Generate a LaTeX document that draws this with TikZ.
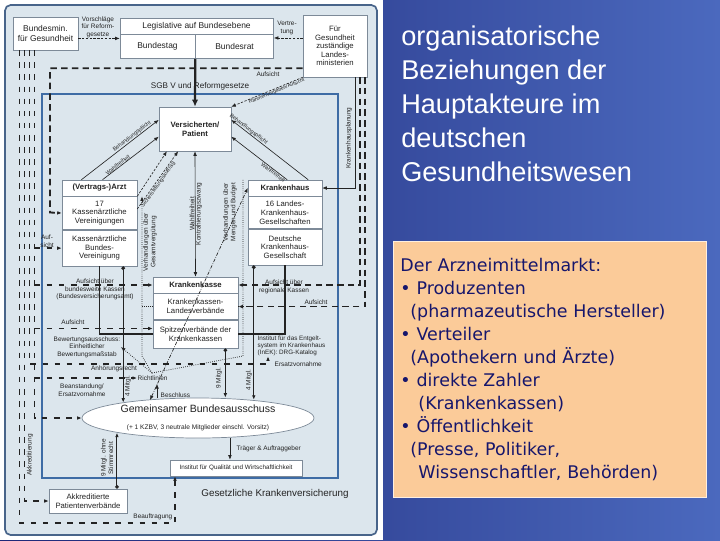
\documentclass[tikz,border=0pt]{standalone}
\usepackage{fontspec}
\setmainfont{Liberation Sans}
\newfontfamily\boxfont{DejaVu Sans}
\usetikzlibrary{
positioning,
shapes.geometric,
arrows.meta,
}
\newcommand{\unitpx}{0.025cm}
\definecolor{slidedark}{RGB}{30,40,120}
\definecolor{slidelight}{RGB}{75,105,190}
\definecolor{panelfill}{RGB}{220,230,237}
\definecolor{panelrim}{RGB}{72,100,138}
\definecolor{gkvblue}{RGB}{62,108,165}
\definecolor{boxgrey}{RGB}{125,138,152}
\definecolor{ink}{RGB}{35,35,35}
\definecolor{peach}{RGB}{251,203,153}
\definecolor{navytext}{RGB}{22,22,108}
\tikzset{
box/.style={draw=boxgrey, fill=white, line width=0.4pt, inner sep=0.5pt, align=center, text=ink, font=\fontsize{5.5}{6.2}\selectfont},
head/.style={box, font=\fontsize{5.5}{6.2}\selectfont\bfseries},
lbl/.style={inner sep=0.3pt, align=center, text=ink, font=\fontsize{4.6}{5.3}\selectfont},
slbl/.style={lbl, sloped, inner sep=0.2pt, font=\fontsize{3.9}{4.5}\selectfont},
rlbl/.style={lbl, rotate=90},
conn/.style={draw=ink, line width=0.45pt},
bar/.style={draw=ink, line width=1.1pt},
aufs/.style={draw=ink, line width=1.3pt, dash pattern=on 4.6pt off 3pt},
aufsbmg/.style={draw=ink, line width=1pt, dash pattern=on 4pt off 4.6pt},
dsh/.style={draw=ink, line width=0.45pt, dash pattern=on 1.6pt off 1.1pt},
dot/.style={draw=ink, line width=0.55pt, dash pattern=on 0.5pt off 1pt},
dashdot/.style={draw=ink, line width=0.45pt, dash pattern=on 2.5pt off 1pt on 0.5pt off 1pt},
>={Latex[length=3.2pt,width=2.6pt]},
}
\begin{document}
\begin{tikzpicture}[x=\unitpx, y=-\unitpx]
\useasboundingbox (0,0) rectangle (720,540);
% slide and panel
\fill[left color=slidedark, right color=slidelight] (0,0) rectangle (720,540);
\fill[white] (0,0) rectangle (383,540);
\node[draw=panelrim, line width=1.2pt, fill=panelfill, rounded corners=4pt,
  minimum width=372*\unitpx, minimum height=530*\unitpx] (panel) at (191,270) {};
\node[draw=gkvblue, line width=1.4pt, minimum width=296*\unitpx,
  minimum height=384*\unitpx] (gkv) at (190,286) {};
\node[text=ink, font=\fontsize{7}{8}\selectfont] (gkvlabel) at (275,494) {Gesetzliche Krankenversicherung};

% federal level
\node[box, font=\fontsize{6}{6.6}\selectfont, minimum width=65*\unitpx, minimum height=33*\unitpx] (bmg) at (45.5,33.5) {Bundesmin.\\für Gesundheit};
\node[box, font=\fontsize{6}{7}\selectfont, minimum width=153*\unitpx, minimum height=16*\unitpx] (leg) at (196.5,26) {Legislative auf Bundesebene};
\node[box, font=\fontsize{6}{7}\selectfont, anchor=north west, minimum width=75*\unitpx, minimum height=24*\unitpx] (bt) at (leg.south west) {Bundestag};
\node[box, font=\fontsize{6}{7}\selectfont, anchor=north west, minimum width=78*\unitpx, minimum height=24*\unitpx] (br) at (bt.north east) {Bundesrat};
\node[box, font=\fontsize{5.5}{6.1}\selectfont, minimum width=64*\unitpx, minimum height=62*\unitpx] (lm) at (335,46) {Für\\Gesundheit\\zuständige\\Landes-\\ministerien};
\node[lbl] (vorschl) at (98,27) {Vorschläge\\für Reform-\\gesetze};
\node[lbl] (vertr) at (287,28) {Vertre-\\tung};
\node[lbl, font=\fontsize{5.8}{7}\selectfont] (sgb) at (200,86) {SGB V und Reformgesetze};
\node[lbl] (aufslm) at (268,74.5) {Aufsicht};

% actors
\node[head, minimum width=72*\unitpx, minimum height=44*\unitpx] (vers) at (195,129) {Versicherten/\\Patient};
\node[head, minimum width=75*\unitpx, minimum height=16*\unitpx] (arzt) at (99.5,188) {(Vertrags-)Arzt};
\node[box, minimum width=75*\unitpx, minimum height=33*\unitpx, below=0pt of arzt] (kv) {17\\Kassenärztliche\\Vereinigungen};
\node[box, minimum width=75*\unitpx, minimum height=36*\unitpx, below=0pt of kv] (kbv) {Kassenärztliche\\Bundes-\\Vereinigung};
\node[head, minimum width=74*\unitpx, minimum height=16*\unitpx] (kh) at (285,188) {Krankenhaus};
\node[box, minimum width=74*\unitpx, minimum height=32*\unitpx, below=0pt of kh] (lkg) {16 Landes-\\Krankenhaus-\\Gesellschaften};
\node[box, minimum width=74*\unitpx, minimum height=36*\unitpx, below=0pt of lkg] (dkg) {Deutsche\\Krankenhaus-\\Gesellschaft};
\node[head, minimum width=85*\unitpx, minimum height=16*\unitpx] (kk) at (195.5,285) {Krankenkasse};
\node[box, minimum width=85*\unitpx, minimum height=26*\unitpx, below=0pt of kk] (lv) {Krankenkassen-\\Landesverbände};
\node[box, minimum width=85*\unitpx, minimum height=28*\unitpx, below=0pt of lv] (spv) {Spitzenverbände der\\Krankenkassen};
\node[ellipse, draw=boxgrey, fill=white, line width=0.5pt, inner sep=0pt, align=center, text=ink,
  minimum width=232*\unitpx, minimum height=40*\unitpx] (gba) at (198,418)
  {{\fontsize{7.5}{8}\selectfont Gemeinsamer Bundesausschuss}\\[0.5pt]
   {\fontsize{4.7}{5.5}\selectfont (+ 1 KZBV, 3 neutrale Mitglieder einschl. Vorsitz)}};
\node[box, font=\fontsize{4.5}{5}\selectfont, minimum width=132*\unitpx, minimum height=16*\unitpx] (iqwig) at (236,468) {Institut für Qualität und Wirtschaftlichkeit};
\node[box, font=\fontsize{5.5}{6.6}\selectfont, minimum width=78*\unitpx, minimum height=24*\unitpx] (akkr) at (88,501) {Akkreditierte\\Patientenverbände};

% labels
\node[lbl] (auflinks) at (47,241) {Auf-\\sicht};
\node[lbl, anchor=south] (bvaA) at (95,284.5) {Aufsicht über};
\node[lbl, anchor=north] (bvaB) at (95,286) {bundesweite Kassen\\(Bundesversicherungsamt)};
\node[lbl] (aufspv) at (73,322) {Aufsicht};
\node[lbl] (regkas) at (284,287) {Aufsicht über\\regionale Kassen};
\node[lbl] (aufslv) at (316,302) {Aufsicht};
\node[lbl, anchor=north west, align=left, font=\fontsize{4.5}{5}\selectfont] (inek) at (257,335) {Institut für das Entgelt-\\system im Krankenhaus\\(InEK): DRG-Katalog};
\node[lbl, anchor=west] (ersatzlbl) at (274,364) {Ersatzvornahme};
\node[lbl] (bewert) at (87,347) {Bewertungsausschuss:\\Einheitlicher\\Bewertungsmaßstab};
\node[lbl] (anhoer) at (114,369) {Anhörungsrecht};
\node[lbl, anchor=west] (richt) at (137,378) {Richtlinien};
\node[lbl] (beanst) at (82,390) {Beanstandung/\\Ersatzvornahme};
\node[lbl, anchor=west] (beschl) at (160,395) {Beschluss};
\node[lbl, anchor=west] (traeger) at (236,449) {Träger \& Auftraggeber};
\node[lbl, anchor=east] (beauftr) at (173,517) {Beauftragung};
\node[rlbl] (akkrlbl) at (30,455) {Akkreditierung};
\node[rlbl] (khplan) at (349,138) {Krankenhausplanung};
\node[rlbl] (gesverg) at (150,242) {Verhandlungen über\\Gesamtvergütung};
\node[rlbl] (mengen) at (230,212) {Verhandlungen über\\Mengen und Budget};
\node[rlbl] (mkbv) at (128,386) {4 Mitgl.};
\node[rlbl] (mspv) at (219,378) {9 Mitgl.};
\node[rlbl] (mdkg) at (249,380) {4 Mitgl.};
\node[rlbl] (mpat) at (107,458) {9 Mitgl. ohne\\Stimmrecht};

% free ends
\coordinate (b20) at ([xshift=5pt]bmg.south west);
\coordinate (b25) at ([xshift=8.5pt]bmg.south west);
\coordinate (b30) at ([xshift=12.1pt]bmg.south west);
\coordinate (b35) at ([xshift=15.6pt]bmg.south west);
\coordinate (beauf) at (175,523);
\coordinate (ersatz) at (268,364);
\coordinate (kvturn) at (50,212.5);
\coordinate (beschA) at (157,384);
\coordinate (rl) at (152,373);
\coordinate (dotA) at (142,356);
\coordinate (dotB) at (243,356);
\coordinate (ddlow) at (150,400);

% federal arrows
\draw[dsh,->] ([yshift=-3.5pt]bmg.east) -- ([yshift=-3.5pt]bmg.east -| bt.west);
\draw[dsh,->] ([yshift=5.7pt]lm.west) -- ([yshift=5.7pt]lm.west -| br.east);
\draw[bar, line width=1.6pt, -{Latex[length=5pt,width=4.5pt]}] (bt.south east) -- (vers.north);
\draw[dsh,->] (lm.south west) -- node[slbl, below, pos=0.38, font=\fontsize{3.6}{4}\selectfont] {Rahmenvorgaben/Aufsicht} (vers.north east);

% supervision (Land)
\draw[aufs,->] ([yshift=6.4pt]lm.south west) -| (kvturn) -- (kv.west);
\draw[aufs,->] ([xshift=-5pt]lm.south east) |- (kk.east);
\draw[aufs,->] ([xshift=-1.4pt]lm.south east) |- (lv.east);
\draw[conn,->] ([xshift=-8.5pt]lm.south east) |- (kh.east);

% supervision (Bund)
\draw[aufsbmg,->] (b20) |- (beauf) -- (beauf |- iqwig.south);
\draw[aufsbmg,->] (b25) |- (akkr.west);
\draw[aufsbmg,->] (b30) |- (ersatz) -- (ersatz |- inek.south);
\draw[aufsbmg,->] (b35) |- (gba.west);
\draw[aufsbmg,->] (b35 |- kbv.west) -- (kbv.west);
\draw[aufsbmg,->] (b35 |- kk.west) -- (kk.west);
\draw[aufsbmg,->] ([yshift=4pt]b35 |- spv.west) -- ([yshift=4pt]spv.west);
\draw[aufsbmg,->] (b35 |- richt.west) -- (richt.west);

% patient relations
\draw[conn,->] ([xshift=14pt]arzt.north west) -- node[slbl, above, pos=0.68] {Behandlungspflicht} ([yshift=6.5pt]vers.west);
\draw[conn,->] ([xshift=29pt]arzt.north west) -- node[slbl, above, pos=0.3] {Wahlfreiheit} ([yshift=-5.5pt]vers.west);
\draw[conn,->] ([xshift=-10pt]kh.north east) -- node[slbl, above, pos=0.8] {Behandlungspflicht} ([yshift=6.5pt]vers.east);
\draw[conn,->] ([xshift=-25pt]kh.north east) -- node[slbl, below, pos=0.22] {Wahlfreiheit} ([yshift=-5.5pt]vers.east);
\draw[dsh,->] (kv.north east) -- ([xshift=-20pt]vers.south);
\draw[dsh,->] ([yshift=-9pt]kv.north east) -- node[slbl, below, pos=0.45] {Sicherstellungsauftrag} ([xshift=-12pt]vers.south);
\draw[conn,<->] (vers.south) -- node[rlbl, anchor=south] {Wahlfreiheit} node[rlbl, anchor=north] {Kontrahierungszwang} (kk.north);

% negotiations
\draw[dot,->] (rl) -- (dotA) -- (dotA |- kv.north);
\draw[dot] (rl) -- (dotB) -- (dotB |- kh.north);
\draw[dot,->] (rl) -- (bewert.east);
\draw[dot] (lv.west) -- (lv.west -| dotA);
\draw[dot] (lv.east) -- (lv.east -| dotB);
\draw[dashdot,<->] (ddlow) -- (kh.west);

% self-government
\draw[bar] (kbv.south) |- (spv.west);
\draw[bar] (dkg.south) |- (spv.east);
\draw[conn, line width=0.7pt, {Circle[length=2.6pt]}->, shorten >=-3.5pt] ([xshift=-10pt]kbv.south east) -- ([xshift=-10pt]kbv.south east |- gba.north);
\draw[conn, line width=0.7pt, {Circle[length=2.6pt]}->] ([xshift=-9.2pt]spv.south east) -- ([xshift=-9.2pt]spv.south east |- gba.north);
\draw[conn, line width=0.7pt, {Circle[length=2.6pt]}->, shorten >=-1.5pt] ([xshift=4.3pt]dkg.south west) -- ([xshift=4.3pt]dkg.south west |- gba.north);
\draw[conn, line width=0.7pt, {Circle[length=2.6pt]}->, shorten >=-4pt] ([xshift=20.6pt]akkr.north) -- ([xshift=20.6pt]akkr.north |- gba.south);
\draw[conn,->] ([xshift=-4.3pt]iqwig.north |- gba.south) -- ([xshift=-4.3pt]iqwig.north);
\draw[conn,->] (gba.north -| beschA) -- (beschA);

% slide text
\node[anchor=north west, inner sep=0pt, align=left, text=white,
  font=\fontsize{19.3}{24.2}\selectfont] (titel) at (401,25.5)
  {organisatorische\\Beziehungen der\\Hauptakteure im\\deutschen\\Gesundheitswesen};
\node[anchor=north west, fill=peach, draw=white!70!peach, line width=0.6pt,
  inner xsep=5pt, text width=313*\unitpx-10pt, minimum height=256*\unitpx,
  align=left, text=navytext, font=\boxfont\fontsize{12.4}{16.4}\selectfont] (markt) at (393,241)
  {Der Arzneimittelmarkt:\\
   \textbullet\ Produzenten\\
   \hspace*{7.1pt}(pharmazeutische Hersteller)\\
   \textbullet\ Verteiler\\
   \hspace*{7.1pt}(Apothekern und Ärzte)\\
   \textbullet\ direkte Zahler\\
   \hspace*{12.8pt}(Krankenkassen)\\
   \textbullet\ Öffentlichkeit\\
   \hspace*{7.1pt}(Presse, Politiker,\\
   \hspace*{12.8pt}Wissenschaftler, Behörden)};
\end{tikzpicture}
\end{document}
